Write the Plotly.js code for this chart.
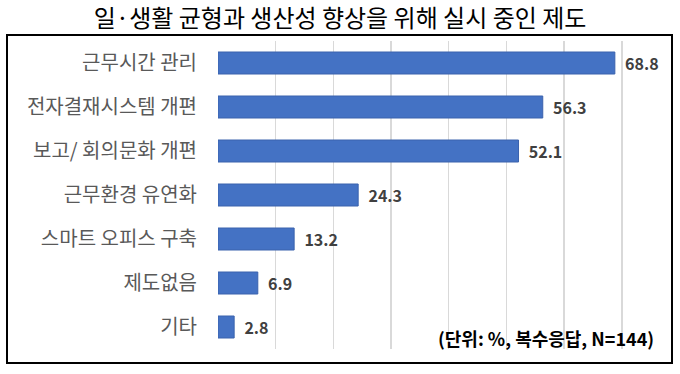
<!DOCTYPE html>
<html>
<head>
<meta charset="utf-8">
<script src="https://cdn.plot.ly/plotly-3.0.1.min.js"></script>
<style>html,body{margin:0;padding:0;background:#fff;}#chart{width:680px;height:374px;}</style>
</head>
<body>
<div id="chart"></div>
<script>
var categories = ["근무시간 관리", "전자결재시스템 개편", "보고/ 회의문화 개편", "근무환경 유연화", "스마트 오피스 구축", "제도없음", "기타"];
var values = [68.8, 56.3, 52.1, 24.3, 13.2, 6.9, 2.8];
var titleText = "일·생활 균형과 생산성 향상을 위해 실시 중인 제도";
var noteText = "(단위: %, 복수응답, N=144)";

var FONT = "'Noto Sans CJK KR', 'Noto Sans', sans-serif";
var L = 218, R = 19, T = 41, B = 25;
var pw = 680 - L - R, ph = 374 - T - B;

var trace = {
  type: 'bar',
  orientation: 'h',
  x: values,
  y: categories,
  width: 0.5,
  marker: {color: '#4472C4', line: {color: '#3a62ad', width: 1}},
  text: values.map(function(v){ return '  ' + v.toFixed(1); }),
  textposition: 'outside',
  constraintext: 'none',
  textfont: {family: FONT, size: 16, color: '#404040', weight: 'bold'},
  cliponaxis: false,
  hoverinfo: 'none'
};

var layout = {
  width: 680, height: 374,
  margin: {l: L, r: R, t: T, b: B, pad: 0},
  paper_bgcolor: '#ffffff', plot_bgcolor: '#ffffff',
  showlegend: false,
  title: {text: titleText, font: {family: FONT, size: 24, color: '#000000'}, x: 0.5, xanchor: 'center', xref: 'container', y: 1 - 19 / 374, yanchor: 'middle', yref: 'container'},
  xaxis: {range: [0, 76.8], dtick: 10, showgrid: true, gridcolor: '#d9d9d9', gridwidth: 1.5, showticklabels: false, zeroline: false, showline: false, fixedrange: true},
  yaxis: {autorange: 'reversed', showgrid: false, ticks: 'outside', ticklen: 16, tickcolor: 'rgba(0,0,0,0)', tickfont: {family: FONT, size: 20, color: '#595959'}, showline: false, zeroline: false, fixedrange: true},
  shapes: [{
    type: 'rect', xref: 'paper', yref: 'paper',
    x0: (7 - L) / pw, x1: (672 - L) / pw,
    y0: (374 - B - 363) / ph, y1: (374 - B - 35) / ph,
    line: {color: '#000000', width: 2}, fillcolor: 'rgba(0,0,0,0)', layer: 'below'
  }],
  annotations: [{
    text: '<b>' + noteText + '</b>', xref: 'paper', yref: 'paper',
    x: (656 - L) / pw, y: (374 - B - 338) / ph, xanchor: 'right', yanchor: 'middle',
    showarrow: false, font: {family: FONT, size: 18, color: '#000000'}
  }]
};

Plotly.newPlot('chart', [trace], layout, {displayModeBar: false, staticPlot: true});
</script>
</body>
</html>
